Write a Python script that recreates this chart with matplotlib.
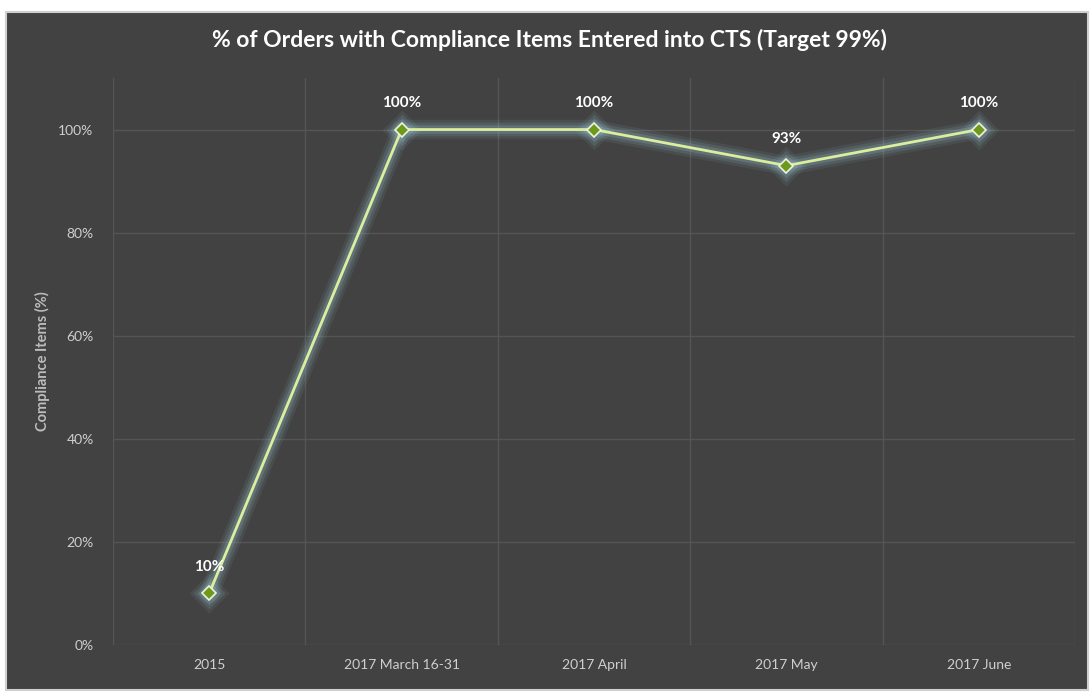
import matplotlib
matplotlib.use('Agg')
import matplotlib.pyplot as plt
from matplotlib.patches import Rectangle

categories = ['2015', '2017 March 16-31', '2017 April', '2017 May', '2017 June']
values = [10, 100, 100, 93, 100]
labels = ['10%', '100%', '100%', '93%', '100%']
yticks = [0, 20, 40, 60, 80, 100]

plt.rcParams['font.family'] = ['Lato', 'DejaVu Sans']

bg = '#424242'
fig = plt.figure(figsize=(10.92, 6.98), dpi=100)
fig.patch.set_facecolor('white')
fig.patches.append(Rectangle((6 / 1092, 8 / 698), 1082 / 1092, 678 / 698,
                             transform=fig.transFigure, facecolor=bg,
                             edgecolor='#d0d0d0', linewidth=1.5, zorder=-5))

ax = fig.add_axes([113 / 1092, 53 / 698, 962 / 1092, 567 / 698])
ax.set_zorder(2)
ax.set_facecolor(bg)
x = list(range(len(categories)))
ax.set_xlim(-0.5, len(categories) - 0.5)
ax.set_ylim(0, 110)

# gridlines
for yt in yticks:
    ax.axhline(yt, color='#555555', lw=1, zorder=1)
for b in [i + 0.5 for i in range(-1, len(categories))]:
    ax.axvline(b, color='#555555', lw=1, zorder=1)

# glow
for w, a in [(14, 0.08), (10, 0.12), (6, 0.18)]:
    ax.plot(x, values, color='#9fd3e0', lw=w, alpha=a, solid_capstyle='round', zorder=2)
    ax.plot(x, values, 'D', color='#9fd3e0', ms=w + 6, alpha=a, mec='none', zorder=2)
ax.plot(x, values, color='#dcee9e', lw=2, zorder=3)
ax.plot(x, values, 'D', color='#6e9a1c', ms=7, mec='#f0f0e0', mew=1.2, zorder=4)

for xi, v, lab in zip(x, values, labels):
    ax.annotate(lab, (xi, v), xytext=(0, 14), textcoords='offset points',
                ha='center', va='bottom', color='white', fontsize=11, fontweight='bold')

ax.set_xticks(x)
ax.set_xticklabels(categories)
ax.set_yticks(yticks)
ax.set_yticklabels(['%d%%' % t for t in yticks])
ax.tick_params(colors='#cfcfcf', labelsize=10, length=0, pad=10)
ax.tick_params(axis='y', pad=14)
for s in ax.spines.values():
    s.set_visible(False)
ax.set_ylabel('Compliance Items (%)', color='#bcbcbc', fontsize=10.5, fontweight='bold', labelpad=6)

fig.text(549 / 1092, 1 - 40 / 698, '% of Orders with Compliance Items Entered into CTS (Target 99%)',
         ha='center', va='center', color='white', fontsize=16.5, fontweight='bold')

plt.savefig('out.png', dpi=100, facecolor=fig.get_facecolor())
